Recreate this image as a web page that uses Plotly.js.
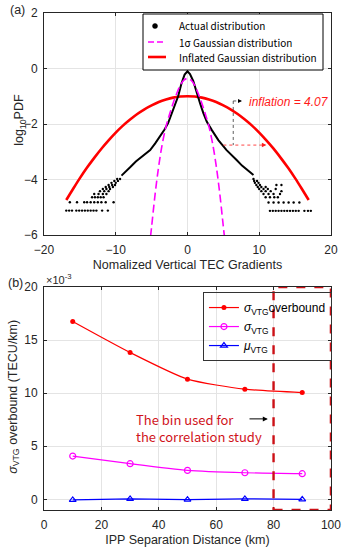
<!DOCTYPE html>
<html><head><meta charset="utf-8">
<script src="https://cdn.plot.ly/plotly-3.0.1.min.js"></script>
<style>html,body{margin:0;padding:0;background:#fff;} #chart{width:344px;height:550px;}</style>
</head><body><div id="chart"></div>
<script>
// ---------- Panel (a) data ----------
// dense central part of the actual distribution (log10 PDF)
const actualCoreX = [-9.2,-8.6,-8.0,-7.2,-6.5,-5.8,-5.2,-4.5,-3.85,-3.2,-2.7,-2.0,-1.3,-0.85,-0.4,0,0.35,0.8,1.27,1.75,2.2,2.7,3.4,4.3,5.45,6.2,6.85,7.6,8.4,9.2];
const actualCoreY = [-3.86,-3.72,-3.56,-3.35,-3.2,-3.06,-2.94,-2.7,-2.46,-2.2,-1.97,-1.5,-1.0,-0.55,-0.22,-0.1,-0.2,-0.45,-0.89,-1.25,-1.6,-1.92,-2.22,-2.58,-2.94,-3.12,-3.3,-3.5,-3.68,-3.84];
// sparse tail samples of the actual distribution
const actualTailX = [
 -16.9,-16.5,-16.1,-15.5,-15.1,-14.7,-14.3,-13.9,-13.5,-13.1,-12.7,-11.9,-11.1,
 -16.4,-15.4,-14.4,-14.0,-13.5,-13.0,-12.5,-12.0,-11.4,-10.3,
 -13.3,-12.9,-12.5,-12.1,-11.7,
 -13.0,-12.4,-11.8,-11.3,
 -12.2,-11.6,-11.0,
 -11.8,-11.3,-10.8,
 -11.4,-10.9,-10.4,
 -11.0,-10.5,-10.1,
 -10.6,-10.0,
 -10.2,-9.7,
 -9.8,-9.4,
 11.5,11.9,12.3,12.7,13.1,13.5,13.9,14.3,14.7,15.1,15.5,16.3,16.8,17.2,
 11.3,12.0,12.7,13.4,14.1,14.8,15.6,
 10.9,11.5,12.1,12.6,
 10.6,11.3,12.0,12.9,
 10.3,10.9,11.6,13.1,
 10.0,10.6,11.2,12.3,
 9.8,10.3,10.9,
 9.6,10.1,12.4,13.1,
 9.4,9.9,
 9.3,9.7,
 9.2
];
const actualTailY = [
 -5.12,-5.12,-5.12,-5.12,-5.12,-5.12,-5.12,-5.12,-5.12,-5.12,-5.12,-5.12,-5.12,
 -4.82,-4.82,-4.82,-4.82,-4.82,-4.82,-4.82,-4.82,-4.82,-4.82,
 -4.64,-4.64,-4.64,-4.64,-4.64,
 -4.52,-4.52,-4.52,-4.52,
 -4.42,-4.42,-4.42,
 -4.34,-4.34,-4.34,
 -4.27,-4.27,-4.27,
 -4.2,-4.2,-4.2,
 -4.12,-4.12,
 -4.05,-4.05,
 -3.98,-3.98,
 -5.13,-5.13,-5.13,-5.13,-5.13,-5.13,-5.13,-5.13,-5.13,-5.13,-5.13,-5.13,-5.13,-5.13,
 -4.83,-4.83,-4.83,-4.83,-4.83,-4.83,-4.83,
 -4.64,-4.64,-4.64,-4.64,
 -4.52,-4.52,-4.52,-4.52,
 -4.42,-4.42,-4.42,-4.42,
 -4.34,-4.34,-4.34,-4.34,
 -4.27,-4.27,-4.27,
 -4.2,-4.2,-4.2,-4.2,
 -4.12,-4.12,
 -4.05,-4.05,
 -3.98
];
// 1-sigma Gaussian (log10 PDF)
const gaussX = [-5.15,-5,-4.5,-4,-3.5,-3,-2.5,-2,-1.5,-1,-0.5,0,0.5,1,1.5,2,2.5,3,3.5,4,4.5,5,5.15];
const gaussY = [-6.05,-5.7,-4.5,-3.5,-2.7,-2.1,-1.65,-1.25,-0.9,-0.6,-0.42,-0.36,-0.42,-0.6,-0.9,-1.25,-1.65,-2.1,-2.7,-3.5,-4.5,-5.7,-6.05];
// Inflated Gaussian (log10 PDF)
const inflX = [-16.9,-16,-15,-14,-13,-12,-11,-10,-9,-8,-7,-6,-5,-4,-3,-2,-1,0,1,2,3,4,5,6,7,8,9,10,11,12,13,14,15,16,16.9];
const inflY = [-4.74,-4.36,-3.95,-3.57,-3.22,-2.89,-2.59,-2.31,-2.06,-1.84,-1.64,-1.47,-1.33,-1.21,-1.12,-1.05,-1.01,-1.0,-1.01,-1.05,-1.12,-1.21,-1.33,-1.47,-1.64,-1.84,-2.06,-2.31,-2.59,-2.89,-3.22,-3.57,-3.95,-4.36,-4.74];
const legendALabels = ['Actual distribution', '1σ Gaussian distribution', 'Inflated Gaussian distribution'];

// ---------- Panel (b) data (units of 1e-3 TECU/km) ----------
const ippDist = [10, 30, 50, 70, 90];
const sigmaOverbound = [16.75, 13.83, 11.32, 10.38, 10.06];
const sigmaVTG = [4.08, 3.36, 2.73, 2.51, 2.42];
const muVTG = [-0.05, 0.04, -0.02, 0.05, 0.0];

const F = 'Liberation Sans, Arial, sans-serif';
const K = 'Noto Sans CJK KR, Noto Sans, sans-serif';
const TC = '#262626';
const MAG_DASH = '8px,4px';
const px = v => v / 344;
const py = v => 1 - v / 550;

const traces = [
  {x: inflX, y: inflY, xaxis:'x', yaxis:'y', mode:'lines', line:{color:'#ff0000', width:2.6, shape:'spline'}, showlegend:false},
  {x: actualCoreX, y: actualCoreY, xaxis:'x', yaxis:'y', mode:'lines', line:{color:'#000', width:2}, showlegend:false},
  {x: actualTailX, y: actualTailY, xaxis:'x', yaxis:'y', mode:'markers', marker:{color:'#000', size:2.4}, showlegend:false},
  {x: gaussX, y: gaussY, xaxis:'x', yaxis:'y', mode:'lines', line:{color:'#ff00ff', width:1.6, dash:MAG_DASH, shape:'spline'}, showlegend:false},
  // panel (b)
  {x: ippDist, y: sigmaOverbound, xaxis:'x2', yaxis:'y2', mode:'lines+markers', line:{color:'#ff0000', width:1.2, shape:'spline', smoothing:0.6}, marker:{color:'#ff0000', size:5, symbol:'circle'}, name:'<i>σ</i><sub>VTG</sub>overbound', legend:'legend2'},
  {x: ippDist, y: sigmaVTG, xaxis:'x2', yaxis:'y2', mode:'lines+markers', line:{color:'#ff00ff', width:1.2, shape:'spline', smoothing:0.6}, marker:{color:'#ff00ff', size:6, symbol:'circle-open', line:{width:1.2}}, name:'<i>σ</i><sub>VTG</sub>', legend:'legend2'},
  {x: ippDist, y: muVTG, xaxis:'x2', yaxis:'y2', mode:'lines+markers', line:{color:'#0000ff', width:1.2}, marker:{color:'#0000ff', size:6, symbol:'triangle-up-open', line:{width:1.2}}, name:'<i>μ</i><sub>VTG</sub>', legend:'legend2'}
];

function axisBase(isY) {
  return {showline:true, linecolor:TC, linewidth:1, mirror:'ticks', ticks:'inside', ticklen:3, tickcolor:TC,
    ticklabelstandoff: isY ? 3 : 4,
    showgrid:true, gridcolor:'#e4e4e4', gridwidth:1, zeroline:false, tickfont:{family:F, size:12, color:TC}};
}

// panel (a) legend, drawn as a box with samples and text
const legRowsY = [26, 42, 57];
const legendAShapes = [
  {type:'rect', xref:'paper', yref:'paper', x0:px(143), x1:px(323), y0:py(70), y1:py(14), fillcolor:'#fff', line:{color:'#000', width:1}, layer:'above'},
  {type:'circle', xref:'paper', yref:'paper', x0:px(152.5), x1:px(157.5), y0:py(legRowsY[0]+2.5), y1:py(legRowsY[0]-2.5), fillcolor:'#000', line:{color:'#000', width:0.5}, layer:'above'},
  {type:'line', xref:'paper', yref:'paper', x0:px(148), x1:px(166), y0:py(legRowsY[1]), y1:py(legRowsY[1]), line:{color:'#ff00ff', width:1.6, dash:'6px,3px'}, layer:'above'},
  {type:'line', xref:'paper', yref:'paper', x0:px(148), x1:px(166), y0:py(legRowsY[2]), y1:py(legRowsY[2]), line:{color:'#ff0000', width:2.6}, layer:'above'}
];
const legendAAnnots = legendALabels.map((t, i) => ({xref:'paper', yref:'paper', x:px(177), y:py(legRowsY[i]), xanchor:'left', yanchor:'middle',
  text:t, showarrow:false, font:{family:K, size:10, color:'#000'}}));

const layout = {
  width:344, height:550, margin:{l:0, r:0, t:0, b:0}, paper_bgcolor:'#fff', plot_bgcolor:'#fff',
  showlegend:true,
  xaxis: Object.assign(axisBase(false), {domain:[0.128,0.962], anchor:'y', range:[-20,20], dtick:10,
    title:{text:'Nomalized Vertical TEC Gradients', font:{family:F, size:12.5, color:TC}, standoff:3}}),
  yaxis: Object.assign(axisBase(true), {domain:[0.5727,0.9764], anchor:'x', range:[-6,2], dtick:2}),
  xaxis2: Object.assign(axisBase(false), {domain:[0.128,0.962], anchor:'y2', range:[0,100], dtick:20,
    title:{text:'IPP Separation Distance (km)', font:{family:F, size:12.5, color:TC}, standoff:3}}),
  yaxis2: Object.assign(axisBase(true), {domain:[0.0727,0.4782], anchor:'x2', range:[-1,20], tickvals:[0,5,10,15,20]}),
  legend2: {x:0.590, y:0.469, xanchor:'left', yanchor:'top', bgcolor:'rgba(0,0,0,0)', bordercolor:'#333', borderwidth:1,
    font:{family:F, size:12, color:'#000'}, tracegroupgap:0},
  shapes: [
    // white backing for legend (b) so the dashed box shows through it
    {type:'rect', xref:'paper', yref:'paper', x0:0.590, x1:0.958, y0:0.342, y1:0.469, fillcolor:'#fff', line:{width:0}, layer:'between'},
    // dotted guides panel (a)
    {type:'line', xref:'x', yref:'y', x0:6.38, x1:6.38, y0:-1.17, y1:-2.76, line:{color:'#333', width:0.8, dash:'dot'}},
    {type:'line', xref:'x', yref:'y', x0:6.38, x1:7.2, y0:-1.17, y1:-1.17, line:{color:'#333', width:0.8, dash:'dot'}},
    {type:'line', xref:'x', yref:'y', x0:5.0, x1:10.5, y0:-2.76, y1:-2.76, line:{color:'#ff3030', width:0.9, dash:'dot'}},
    // the bin box panel (b)
    {type:'rect', xref:'x2', yref:'y2', x0:80, x1:100, y0:-1, y1:20, line:{color:'#cc1016', width:2.4, dash:'dash'}, fillcolor:'rgba(0,0,0,0)', layer:'above'}
  ].concat(legendAShapes),
  annotations: [
    {xref:'paper', yref:'paper', x:0.058, y:0.782, xanchor:'center', yanchor:'middle', textangle:-90, text:'log<sub>10</sub>PDF', showarrow:false, font:{family:F, size:12.5, color:TC}},
    {xref:'paper', yref:'paper', x:0.040, y:0.278, xanchor:'center', yanchor:'middle', textangle:-90, text:'<i>σ</i><sub>VTG</sub> overbound (TECU/km)', showarrow:false, font:{family:F, size:12.5, color:TC}},
    {xref:'paper', yref:'paper', x:0.022, y:0.982, xanchor:'left', yanchor:'middle', text:'(a)', showarrow:false, font:{family:F, size:12.5, color:TC}},
    {xref:'paper', yref:'paper', x:0.018, y:0.486, xanchor:'left', yanchor:'middle', text:'(b)', showarrow:false, font:{family:F, size:12.5, color:TC}},
    {xref:'paper', yref:'paper', x:0.128, y:0.492, xanchor:'left', yanchor:'middle', text:'×10<sup>-3</sup>', showarrow:false, font:{family:F, size:11, color:TC}},
    {xref:'x', yref:'y', x:8.3, y:-1.21, xanchor:'left', yanchor:'middle', text:'<i>inflation = 4.07</i>', showarrow:false, font:{family:F, size:12, color:'#ff1a1a'}},
    {xref:'x', yref:'y', x:7.6, y:-1.17, ax:7.0, ay:-1.17, axref:'x', ayref:'y', text:'', showarrow:true, arrowhead:2, arrowsize:1, arrowwidth:0.8, arrowcolor:'#000'},
    {xref:'x', yref:'y', x:11.0, y:-2.76, ax:10.3, ay:-2.76, axref:'x', ayref:'y', text:'', showarrow:true, arrowhead:2, arrowsize:1, arrowwidth:0.9, arrowcolor:'#ff2020'},
    {xref:'x2', yref:'y2', x:31.4, y:6.73, xanchor:'left', yanchor:'middle', align:'left', text:'The bin used for<br>the correlation study', showarrow:false, font:{family:K, size:13, color:'#d0131b'}},
    {xref:'x2', yref:'y2', x:78.0, y:7.58, ax:71.1, ay:7.58, axref:'x2', ayref:'y2', text:'', showarrow:true, arrowhead:2, arrowsize:1, arrowwidth:1, arrowcolor:'#000'}
  ].concat(legendAAnnots)
};

Plotly.newPlot('chart', traces, layout, {displayModeBar:false, staticPlot:true});
</script></body></html>
